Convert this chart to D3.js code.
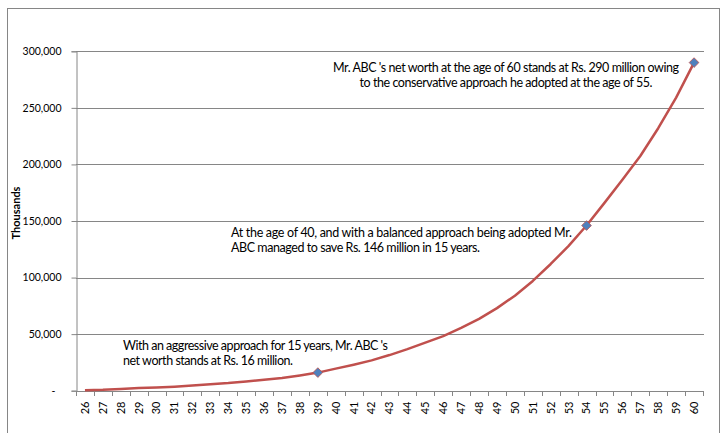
<!DOCTYPE html>
<html>
<head>
<meta charset="utf-8">
<script src="https://cdn.jsdelivr.net/npm/d3@7/dist/d3.min.js"></script>
<style>
  html, body { margin: 0; padding: 0; background: #fff; }
  svg text { font-family: Lato, "Open Sans", sans-serif; fill: #000; }
</style>
</head>
<body>
<svg id="chart" width="722" height="433"></svg>
<script>
const ages = d3.range(26, 61).map(String);
const netWorth = [500, 800, 1500, 2300, 2800, 3500, 4500, 5800, 6800, 8200,
  9700, 11300, 13500, 16000, 19500, 23000, 26800, 31500, 36800, 42500,
  48300, 55500, 63500, 73000, 84000, 97000, 112000, 128000, 146000, 166000,
  186500, 207500, 232000, 259000, 290000];
const markedAges = ["39", "54", "60"];
const yTicks = [0, 50000, 100000, 150000, 200000, 250000, 300000];
const yTitle = "Thousands";
const notes = [
  {lines: ["Mr. ABC 's net worth at the age of 60 stands at Rs. 290 million owing",
           "to the conservative approach he adopted at the age of 55."]},
  {lines: ["At the age of 40, and with a balanced approach being adopted Mr.",
           "ABC managed to save Rs. 146 million in 15 years."]},
  {lines: ["With an aggressive approach for 15 years, Mr. ABC 's",
           "net worth stands at Rs. 16 million."]}
];

const svg = d3.select("#chart");
const pL = 76, pR = 703, pT = 51.3, pB = 390.7;

svg.append("rect").attr("x", 7.5).attr("y", 8.5).attr("width", 712).attr("height", 440)
  .attr("fill", "none").attr("stroke", "#868686").attr("stroke-width", 1);

const x = d3.scaleBand().domain(ages).range([pL, pR]);
const y = d3.scaleLinear().domain([0, 300000]).range([pB, pT]);

// gridlines
svg.append("g").selectAll("line").data(yTicks.filter(d => d > 0)).join("line")
  .attr("x1", pL).attr("x2", pR + 1)
  .attr("y1", d => Math.round(y(d)) + 0.5).attr("y2", d => Math.round(y(d)) + 0.5)
  .attr("stroke", "#868686").attr("stroke-width", 1);

// y axis
const yAxis = svg.append("g").attr("transform", `translate(${pL + 0.5},0)`)
  .call(d3.axisLeft(y).tickValues(yTicks).tickSize(5).tickPadding(10)
    .tickFormat(d => d === 0 ? "-" : d3.format(",")(d)));
yAxis.select(".domain").attr("stroke", "#868686");
yAxis.selectAll(".tick line").attr("stroke", "#868686");
yAxis.selectAll(".tick text").attr("font-size", 10.5).attr("font-family", "Lato, sans-serif").attr("fill", "#222");
yAxis.selectAll(".tick").filter(d => d === 0).select("text").attr("dx", -6);

// x axis
const xAxis = svg.append("g").attr("transform", `translate(0,${Math.round(pB) + 0.5})`)
  .call(d3.axisBottom(x).tickSize(0).tickPadding(0));
xAxis.select(".domain").attr("stroke", "#868686").attr("d", `M${pL},0H${pR}`);
xAxis.selectAll(".tick text")
  .attr("font-size", 11).attr("font-family", "Lato, sans-serif").attr("fill", "#222")
  .attr("transform", "rotate(-90)").attr("text-anchor", "end")
  .attr("x", -10).attr("y", 0).attr("dy", "0.35em");
// boundary tick marks
const bounds = ages.map(a => x(a)).concat([pR]);
svg.append("g").selectAll("line").data(bounds).join("line")
  .attr("x1", d => Math.round(d) + 0.5).attr("x2", d => Math.round(d) + 0.5)
  .attr("y1", Math.round(pB)).attr("y2", Math.round(pB) + 5)
  .attr("stroke", "#868686");

// y title
svg.append("text").attr("transform", "translate(20,213) rotate(-90)")
  .attr("text-anchor", "middle").attr("font-size", 11).attr("font-weight", "bold")
  .text(yTitle);

// line
const cx = a => x(a) + x.bandwidth() / 2;
svg.append("path").datum(ages.map((a, i) => [a, netWorth[i]]))
  .attr("fill", "none").attr("stroke", "#C0504D").attr("stroke-width", 2.5)
  .attr("stroke-linejoin", "round")
  .attr("d", d3.line().x(d => cx(d[0])).y(d => y(d[1])));

// markers
svg.append("g").selectAll("path").data(markedAges).join("path")
  .attr("transform", a => `translate(${cx(a)},${y(netWorth[ages.indexOf(a)])})`)
  .attr("d", d3.symbol(d3.symbolDiamond2, 60)())
  .attr("fill", "#4F81BD").attr("stroke", "#C0504D").attr("stroke-width", 0.8);

// notes
const n1 = svg.append("text").attr("font-size", 12.5).attr("text-anchor", "middle").attr("fill", "#111");
n1.append("tspan").attr("x", 506).attr("y", 72).attr("textLength", 346).attr("lengthAdjust", "spacing").text(notes[0].lines[0]);
n1.append("tspan").attr("x", 506).attr("y", 87).attr("textLength", 293).attr("lengthAdjust", "spacing").text(notes[0].lines[1]);

const n2 = svg.append("text").attr("font-size", 12.5).attr("fill", "#111");
n2.append("tspan").attr("x", 231).attr("y", 237).attr("textLength", 341).attr("lengthAdjust", "spacing").text(notes[1].lines[0]);
n2.append("tspan").attr("x", 231).attr("y", 251.5).attr("textLength", 249).attr("lengthAdjust", "spacing").text(notes[1].lines[1]);

const n3 = svg.append("text").attr("font-size", 12.5).attr("fill", "#111");
n3.append("tspan").attr("x", 123).attr("y", 350).attr("textLength", 265).attr("lengthAdjust", "spacing").text(notes[2].lines[0]);
n3.append("tspan").attr("x", 123).attr("y", 364.5).attr("textLength", 170).attr("lengthAdjust", "spacing").text(notes[2].lines[1]);
</script>
</body>
</html>
